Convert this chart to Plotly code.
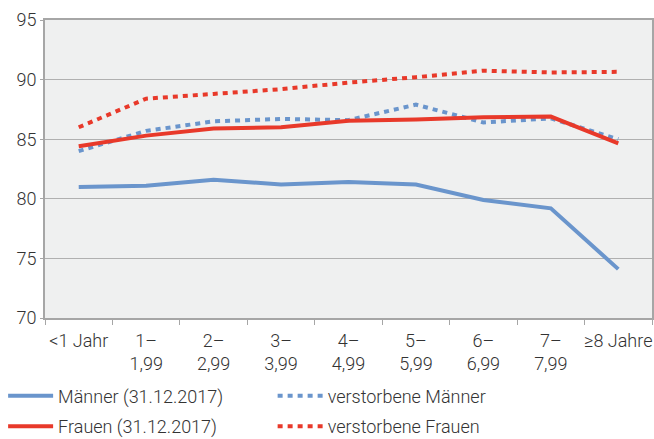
import plotly.graph_objects as go

categories = ["<1 Jahr", "1–<br>1,99", "2–<br>2,99", "3–<br>3,99", "4–<br>4,99",
              "5–<br>5,99", "6–<br>6,99", "7–<br>7,99", "≥8 Jahre"]
maenner = [81.0, 81.1, 81.6, 81.2, 81.4, 81.2, 79.9, 79.2, 74.1]
frauen = [84.4, 85.3, 85.9, 86.0, 86.55, 86.65, 86.85, 86.9, 84.65]
verst_maenner = [84.0, 85.7, 86.5, 86.7, 86.6, 87.9, 86.4, 86.75, 85.0]
verst_frauen = [86.0, 88.4, 88.8, 89.2, 89.75, 90.2, 90.75, 90.6, 90.65]

BLUE = "#6a95cc"
RED = "#e8392a"

fig = go.Figure()
fig.add_trace(go.Scatter(x=categories, y=maenner, mode="lines", name="Männer (31.12.2017)",
                         line=dict(color=BLUE, width=4), legend="legend", legendrank=1,
                         legendgroup="a"))
fig.add_trace(go.Scatter(x=categories, y=verst_maenner, mode="lines", name="verstorbene Männer",
                         line=dict(color=BLUE, width=4, dash="5px,5px"), legend="legend2",
                         legendrank=1, legendgroup="c"))
fig.add_trace(go.Scatter(x=categories, y=verst_frauen, mode="lines", name="verstorbene Frauen",
                         line=dict(color=RED, width=4, dash="5px,5px"), legend="legend2",
                         legendrank=2, legendgroup="d"))
fig.add_trace(go.Scatter(x=categories, y=frauen, mode="lines", name="Frauen (31.12.2017)",
                         line=dict(color=RED, width=4), legend="legend", legendrank=2,
                         legendgroup="b"))

font = dict(family="Roboto", size=18, color="#333333", weight=300)
legfont = dict(family="Roboto", size=18, color="#333333", weight=300)

fig.update_layout(
    width=654, height=439,
    margin=dict(l=45, r=2, t=20, b=121, autoexpand=False),
    paper_bgcolor="white",
    plot_bgcolor="#eff0f0",
    font=font,
    legend=dict(x=-0.069, y=-0.2, xanchor="left", yanchor="top", orientation="v",
                font=legfont, itemwidth=45, tracegroupgap=4, bgcolor="rgba(0,0,0,0)",
                traceorder="grouped"),
    legend2=dict(x=0.375, y=-0.2, xanchor="left", yanchor="top", orientation="v",
                 font=legfont, itemwidth=45, tracegroupgap=4, bgcolor="rgba(0,0,0,0)",
                 traceorder="grouped"),
)
fig.update_xaxes(
    showline=True, linecolor="#a6a6a6", linewidth=2, mirror=True,
    ticks="outside", tickson="boundaries", ticklen=5, tickcolor="#a6a6a6", tickwidth=1,
    showgrid=False, tickfont=font, range=[-0.5, 8.5], tickangle=0, automargin=False,
    ticklabelstandoff=5,
)
fig.update_yaxes(
    range=[70, 95], dtick=5, showline=True, linecolor="#a6a6a6", linewidth=2, mirror=True,
    ticks="outside", ticklen=3, tickcolor="#a6a6a6", automargin=False,
    gridcolor="#b0b0b0", gridwidth=1, tickfont=font, zeroline=False,
)

fig.write_html("out.html", config={"displayModeBar": False},
               post_script="document.body.style.margin='0px';")
